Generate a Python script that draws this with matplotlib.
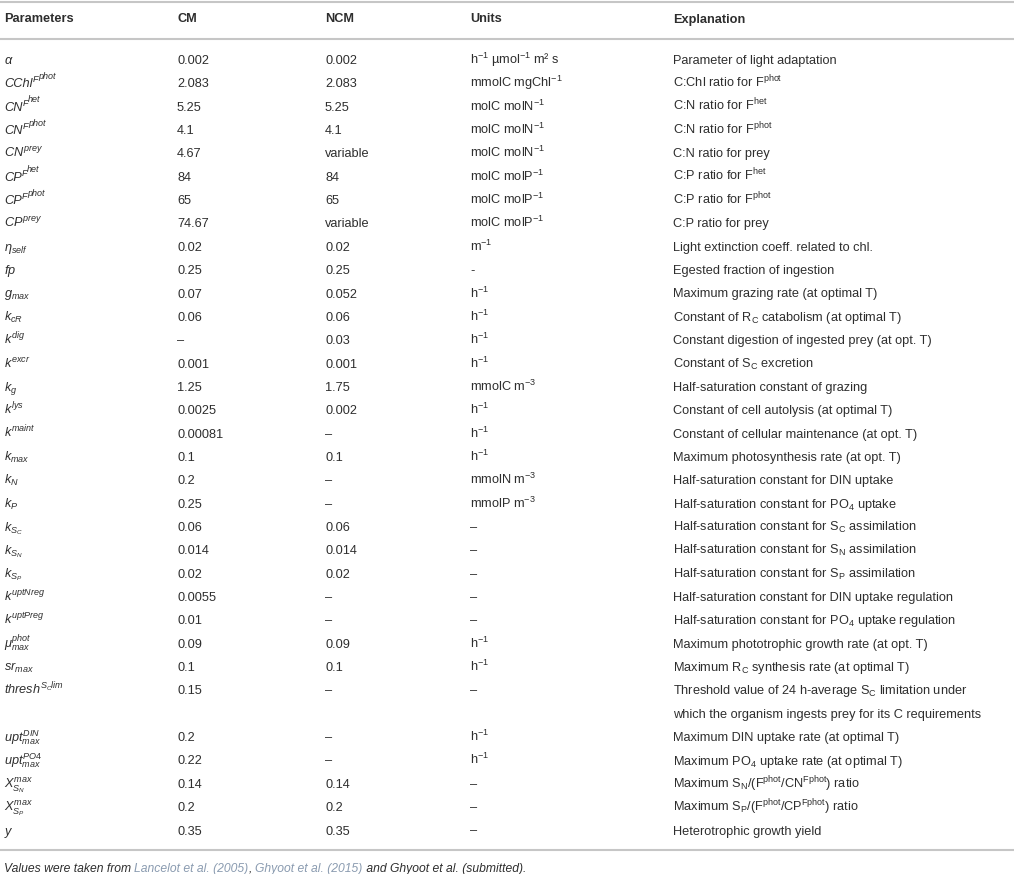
import matplotlib
matplotlib.use('Agg')
import matplotlib.pyplot as plt

plt.rcParams['font.family'] = 'Liberation Sans'
plt.rcParams['mathtext.fontset'] = 'custom'
plt.rcParams['mathtext.rm'] = 'Liberation Sans'
plt.rcParams['mathtext.it'] = 'Liberation Sans:italic'
plt.rcParams['mathtext.bf'] = 'Liberation Sans:bold'

# table content
headers = ['Parameters', 'CM', 'NCM', 'Units', 'Explanation']

# a tuple means base + superscript + raised second superscript (F^{phot} style)
params = [
    r'$\alpha$', ('CChl', 'F', 'phot'), ('CN', 'F', 'het'), ('CN', 'F', 'phot'),
    r'$CN^{prey}$', ('CP', 'F', 'het'), ('CP', 'F', 'phot'), r'$CP^{prey}$',
    r'$\eta_{self}$', r'$fp$', r'$g_{max}$', r'$k_{cR}$', r'$k^{dig}$',
    r'$k^{excr}$', r'$k_g$', r'$k^{lys}$', r'$k^{maint}$', r'$k_{max}$',
    r'$k_N$', r'$k_P$', r'$k_{S_C}$', r'$k_{S_N}$', r'$k_{S_P}$',
    r'$k^{uptNreg}$', r'$k^{uptPreg}$', r'$\mu^{phot}_{max}$', r'$sr_{max}$',
    r'$thresh^{S_Clim}$', r'$upt^{DIN}_{max}$', r'$upt^{PO4}_{max}$',
    r'$X^{max}_{S_N}$', r'$X^{max}_{S_P}$', r'$y$',
]

cm_vals = ['0.002', '2.083', '5.25', '4.1', '4.67', '84', '65', '74.67',
           '0.02', '0.25', '0.07', '0.06', '–', '0.001', '1.25', '0.0025',
           '0.00081', '0.1', '0.2', '0.25', '0.06', '0.014', '0.02', '0.0055',
           '0.01', '0.09', '0.1', '0.15', '0.2', '0.22', '0.14', '0.2', '0.35']

ncm_vals = ['0.002', '2.083', '5.25', '4.1', 'variable', '84', '65', 'variable',
            '0.02', '0.25', '0.052', '0.06', '0.03', '0.001', '1.75', '0.002',
            '–', '0.1', '–', '–', '0.06', '0.014', '0.02', '–',
            '–', '0.09', '0.1', '–', '–', '–', '0.14', '0.2', '0.35']

h1 = r'h$^{-1}$'
units = [
    r'h$^{-1}$ µmol$^{-1}$ m² s', r'mmolC mgChl$^{-1}$',
    r'molC molN$^{-1}$', r'molC molN$^{-1}$', r'molC molN$^{-1}$',
    r'molC molP$^{-1}$', r'molC molP$^{-1}$', r'molC molP$^{-1}$',
    r'm$^{-1}$', '-', h1, h1, h1, h1, r'mmolC m$^{-3}$', h1, h1, h1,
    r'mmolN m$^{-3}$', r'mmolP m$^{-3}$', '–', '–', '–', '–', '–',
    h1, h1, '–', h1, h1, '–', '–', '–',
]

explanations = [
    'Parameter of light adaptation',
    r'C:Chl ratio for F$^\mathrm{phot}$',
    r'C:N ratio for F$^\mathrm{het}$',
    r'C:N ratio for F$^\mathrm{phot}$',
    'C:N ratio for prey',
    r'C:P ratio for F$^\mathrm{het}$',
    r'C:P ratio for F$^\mathrm{phot}$',
    'C:P ratio for prey',
    'Light extinction coeff. related to chl.',
    'Egested fraction of ingestion',
    'Maximum grazing rate (at optimal T)',
    r'Constant of R$_\mathrm{C}$ catabolism (at optimal T)',
    'Constant digestion of ingested prey (at opt. T)',
    r'Constant of S$_\mathrm{C}$ excretion',
    'Half-saturation constant of grazing',
    'Constant of cell autolysis (at optimal T)',
    'Constant of cellular maintenance (at opt. T)',
    'Maximum photosynthesis rate (at opt. T)',
    'Half-saturation constant for DIN uptake',
    r'Half-saturation constant for PO$_\mathrm{4}$ uptake',
    r'Half-saturation constant for S$_\mathrm{C}$ assimilation',
    r'Half-saturation constant for S$_\mathrm{N}$ assimilation',
    r'Half-saturation constant for S$_\mathrm{P}$ assimilation',
    'Half-saturation constant for DIN uptake regulation',
    r'Half-saturation constant for PO$_\mathrm{4}$ uptake regulation',
    'Maximum phototrophic growth rate (at opt. T)',
    r'Maximum R$_\mathrm{C}$ synthesis rate (at optimal T)',
    [r'Threshold value of 24 h-average S$_\mathrm{C}$ limitation under',
     'which the organism ingests prey for its C requirements'],
    'Maximum DIN uptake rate (at optimal T)',
    r'Maximum PO$_\mathrm{4}$ uptake rate (at optimal T)',
    r'Maximum S$_\mathrm{N}$/(F$^\mathrm{phot}$/CN$^\mathrm{Fphot}$) ratio',
    r'Maximum S$_\mathrm{P}$/(F$^\mathrm{phot}$/CP$^\mathrm{Fphot}$) ratio',
    'Heterotrophic growth yield',
]

footnote = [
    ('Values were taken from ', 'text'),
    ('Lancelot et al. (2005)', 'link'),
    (', ', 'text'),
    ('Ghyoot et al. (2015)', 'link'),
    (' and Ghyoot et al. (submitted).', 'text'),
]

W, H = 1014, 874
fig = plt.figure(figsize=(W / 100, H / 100), dpi=100)
ax = fig.add_axes([0, 0, 1, 1])
ax.set_xlim(0, W)
ax.set_ylim(H, 0)
ax.axis('off')
r = fig.canvas.get_renderer()

txt = '#2e2e2e'
link = '#8a9bb0'
rule = '#c6c6c6'
fs = 9.2
col_x = [4, 177, 325, 470, 673]


def text_width(s, **kw):
    # width in pixels, trailing spaces kept by measuring against a marker
    t1 = ax.text(0, 0, s + 'x', **kw)
    t2 = ax.text(0, 0, 'x', **kw)
    w = t1.get_window_extent(r).width - t2.get_window_extent(r).width
    t1.remove()
    t2.remove()
    return w


def draw_pieces(x, yb, pieces, **kw):
    # pieces: (text, size, raise in px)
    for s, size, rise in pieces:
        ax.text(x, yb - rise, s, fontsize=size, va='baseline', **kw)
        x += text_width(s, fontsize=size, **kw)
    return x


# rules
for yy in (2, 39, 850):
    ax.plot([0, W], [yy, yy], color=rule, lw=1.5, solid_capstyle='butt')

for x, h in zip(col_x, headers):
    ax.text(x, 22.5, h, fontsize=fs, fontweight='bold', color=txt, va='baseline')

y0, dy, base = 59.5, 23.35, 4.5
slot = 0
for i in range(len(params)):
    yb = y0 + dy * slot + base
    p = params[i]
    if isinstance(p, tuple):
        draw_pieces(col_x[0], yb, [(p[0], fs, 0), (p[1], fs * 0.7, 5.0),
                                   (p[2], fs * 0.7, 8.5)],
                    style='italic', color=txt)
    else:
        ax.text(col_x[0], yb, p, fontsize=fs, color=txt, va='baseline')
    ax.text(col_x[1], yb, cm_vals[i], fontsize=fs, color=txt, va='baseline')
    ax.text(col_x[2], yb, ncm_vals[i], fontsize=fs, color=txt, va='baseline')
    ax.text(col_x[3], yb, units[i], fontsize=fs, color=txt, va='baseline')
    ex = explanations[i]
    if isinstance(ex, list):
        for j, line in enumerate(ex):
            ax.text(col_x[4], yb + dy * j, line, fontsize=fs, color=txt, va='baseline')
        slot += len(ex)
    else:
        ax.text(col_x[4], yb, ex, fontsize=fs, color=txt, va='baseline')
        slot += 1

# footnote, drawn piece by piece
ffs = 8.7
x = 4
for s, kind in footnote:
    ax.text(x, 872, s, fontsize=ffs, style='italic',
            color=link if kind == 'link' else txt, va='baseline')
    x += text_width(s, fontsize=ffs, style='italic')

fig.savefig('out.png', dpi=100)
